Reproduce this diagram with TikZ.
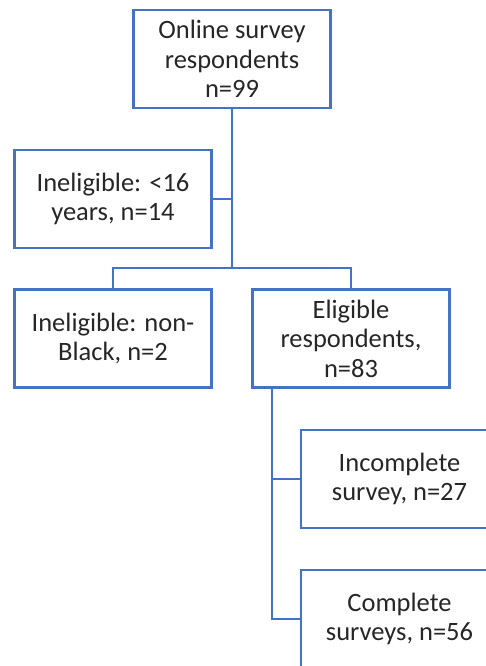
\documentclass[tikz,border=0pt]{standalone}
\usepackage{fontspec}
\setmainfont{Carlito}
\definecolor{boxblue}{HTML}{4472C4}
\definecolor{txt}{HTML}{262626}
\begin{document}
\begin{tikzpicture}[x=1pt,y=-1pt,
  box/.style={draw=boxblue,line width=2.5pt,rectangle,minimum width=197pt,minimum height=98pt,
    align=center,text=txt,inner sep=2pt,font=\fontsize{26.5}{29.5}\selectfont},
  conn/.style={draw=boxblue,line width=2.5pt}]
\useasboundingbox (0,0) rectangle (485,666);
\node[box] (b1) at (232,59) {Online survey\\respondents\\n=99};
\node[box] (b2) at (113,199) {Ineligible: <16\\years, n=14};
\node[box] (b3) at (113,338.5) {Ineligible: non-\\Black, n=2};
\node[box] (b4) at (351,338.5) {Eligible\\respondents,\\n=83};
\node[box] (b5) at (399.5,479) {Incomplete\\survey, n=27};
\node[box] (b6) at (399.5,619) {Complete\\surveys, n=56};
\coordinate (j1) at (232,268);
\coordinate (v0) at ([xshift=-79pt]b4.south);
\draw[conn] (b1.south) -- (j1);
\draw[conn] (b2.east) -- (b2.east -| j1);
\draw[conn] (b3.north) |- (j1) -| (b4.north);
\draw[conn] (v0) |- (b6.west);
\draw[conn] (b5.west) -- (b5.west -| v0);
\end{tikzpicture}
\end{document}
